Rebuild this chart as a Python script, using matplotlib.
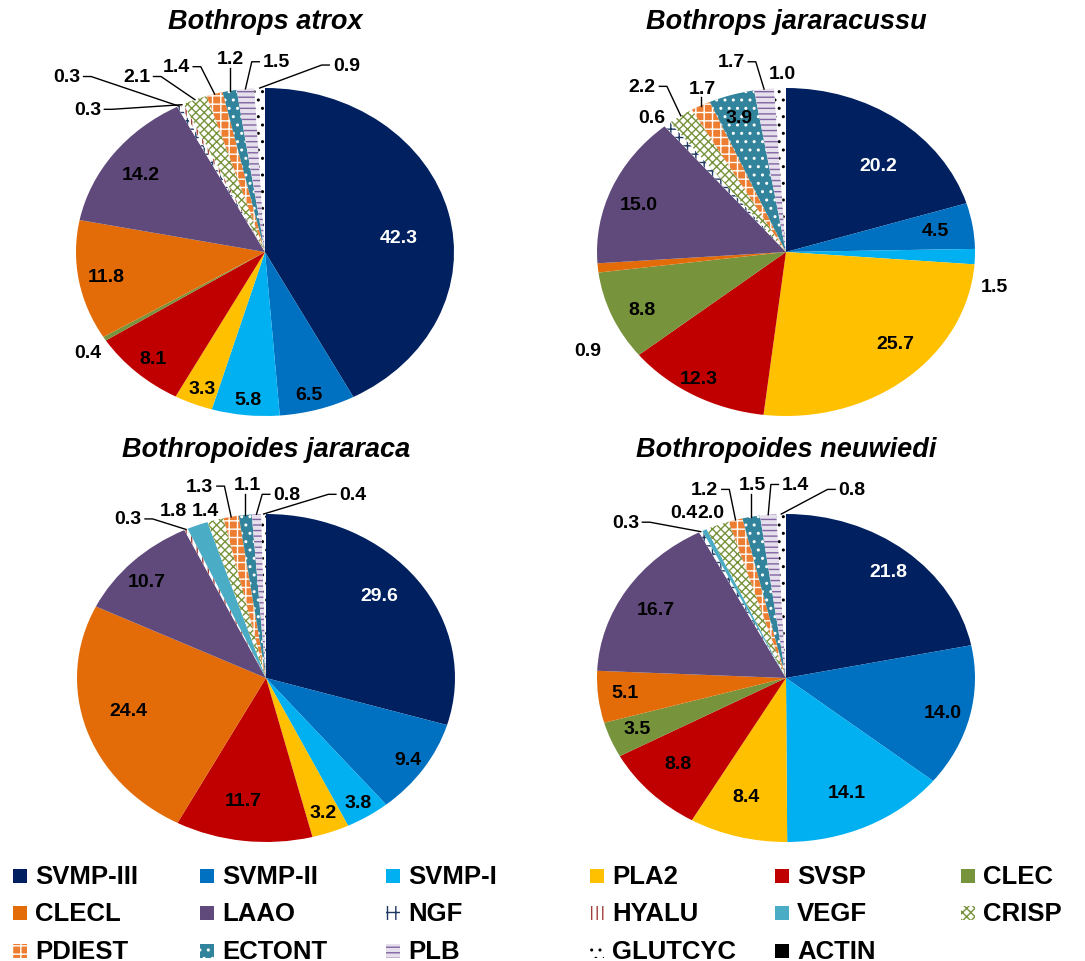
import matplotlib.pyplot as plt
from matplotlib.patches import Rectangle
import numpy as np

plt.rcParams["font.family"] = ["Liberation Sans", "DejaVu Sans"]
plt.rcParams["hatch.linewidth"] = 1.0

categories = ["SVMP-III", "SVMP-II", "SVMP-I", "PLA2", "SVSP", "CLEC",
              "CLECL", "LAAO", "NGF", "HYALU", "VEGF", "CRISP",
              "PDIEST", "ECTONT", "PLB", "GLUTCYC", "ACTIN"]

species = ["Bothrops atrox", "Bothrops jararacussu",
           "Bothropoides jararaca", "Bothropoides neuwiedi"]

atrox = [42.3, 6.5, 5.8, 3.3, 8.1, 0.4, 11.8, 14.2, 0.3, 0.3, 0.0, 2.1, 1.4, 1.2, 1.5, 0.9, 0.0]
jararacussu = [20.2, 4.5, 1.5, 25.7, 12.3, 8.8, 0.9, 15.0, 0.6, 0.0, 0.0, 2.2, 1.7, 3.9, 1.7, 1.0, 0.0]
jararaca = [29.6, 9.4, 3.8, 3.2, 11.7, 0.0, 24.4, 10.7, 0.0, 0.3, 1.8, 1.4, 1.3, 1.1, 0.8, 0.4, 0.0]
neuwiedi = [21.8, 14.0, 14.1, 8.4, 8.8, 3.5, 5.1, 16.7, 0.3, 0.0, 0.4, 2.0, 1.2, 1.5, 1.4, 0.8, 0.0]
all_values = [atrox, jararacussu, jararaca, neuwiedi]

# (face, hatch colour, hatch)
styles = {
    "SVMP-III": ("#002060", "#002060", None),
    "SVMP-II": ("#0070C0", "#0070C0", None),
    "SVMP-I": ("#00B0F0", "#00B0F0", None),
    "PLA2": ("#FFC000", "#FFC000", None),
    "SVSP": ("#C00000", "#C00000", None),
    "CLEC": ("#77933C", "#77933C", None),
    "CLECL": ("#E36C09", "#E36C09", None),
    "LAAO": ("#604A7B", "#604A7B", None),
    "NGF": ("white", "#1F3864", "++"),
    "HYALU": ("white", "#A0403C", "|||"),
    "VEGF": ("#4BACC6", "#4BACC6", None),
    "CRISP": ("white", "#77933C", "xxxx"),
    "PDIEST": ("#ED7D31", "white", "++"),
    "ECTONT": ("#31849B", "white", ".."),
    "PLB": ("#E6E0EC", "#8064A2", "---"),
    "GLUTCYC": ("white", "black", ".."),
    "ACTIN": ("black", "black", None),
}

# layout (pixels of the 1085x962 canvas)
W, H = 1085, 962
RX, RY = 189, 164
centers = [(265, 253), (786, 253), (266, 679), (786, 679)]
title_y = [22, 22, 450, 450]

# label positions in pie units (u, v), and which get leader lines
label_pos = [
    {"SVMP-III": (0.71, 0.09), "SVMP-II": (0.23, -0.87), "SVMP-I": (-0.09, -0.90),
     "PLA2": (-0.33, -0.83), "SVSP": (-0.59, -0.65), "CLEC": (-0.94, -0.61),
     "CLECL": (-0.84, -0.15), "LAAO": (-0.66, 0.47), "NGF": (-1.05, 1.07),
     "HYALU": (-0.94, 0.87), "CRISP": (-0.68, 1.07), "PDIEST": (-0.47, 1.13),
     "ECTONT": (-0.185, 1.18), "PLB": (0.06, 1.16), "GLUTCYC": (0.43, 1.14)},
    {"SVMP-III": (0.49, 0.53), "SVMP-II": (0.79, 0.13), "SVMP-I": (1.10, -0.21),
     "PLA2": (0.58, -0.56), "SVSP": (-0.46, -0.77), "CLEC": (-0.76, -0.35),
     "CLECL": (-1.05, -0.60), "LAAO": (-0.78, 0.29), "NGF": (-0.71, 0.82),
     "CRISP": (-0.76, 1.01), "PDIEST": (-0.44, 1.00), "ECTONT": (-0.25, 0.82),
     "PLB": (-0.29, 1.16), "GLUTCYC": (-0.02, 1.09)},
    {"SVMP-III": (0.60, 0.50), "SVMP-II": (0.75, -0.50), "SVMP-I": (0.49, -0.76),
     "PLA2": (0.30, -0.82), "SVSP": (-0.12, -0.75), "CLECL": (-0.73, -0.20),
     "LAAO": (-0.63, 0.59), "HYALU": (-0.73, 0.97), "VEGF": (-0.49, 1.02),
     "CRISP": (-0.32, 1.02), "PDIEST": (-0.35, 1.17), "ECTONT": (-0.10, 1.18),
     "PLB": (0.11, 1.12), "GLUTCYC": (0.46, 1.12)},
    {"SVMP-III": (0.54, 0.65), "SVMP-II": (0.83, -0.21), "SVMP-I": (0.32, -0.70),
     "PLA2": (-0.21, -0.72), "SVSP": (-0.57, -0.52), "CLEC": (-0.79, -0.31),
     "CLECL": (-0.85, -0.09), "LAAO": (-0.69, 0.42), "NGF": (-0.85, 0.95),
     "VEGF": (-0.54, 1.01), "CRISP": (-0.40, 1.01), "PDIEST": (-0.43, 1.15),
     "ECTONT": (-0.18, 1.18), "PLB": (0.05, 1.18), "GLUTCYC": (0.35, 1.15)},
]
leaders = [
    {"NGF", "HYALU", "CRISP", "PDIEST", "ECTONT", "PLB", "GLUTCYC"},
    {"CRISP", "PDIEST", "PLB"},
    {"HYALU", "PDIEST", "ECTONT", "PLB", "GLUTCYC"},
    {"NGF", "PDIEST", "ECTONT", "PLB", "GLUTCYC"},
]

legend_cols = [20, 207, 393, 597, 782, 968]
legend_rows = [877, 914, 952]

fig = plt.figure(figsize=(W / 100, H / 100), dpi=100)

for i, vals in enumerate(all_values):
    cx, cy = centers[i]
    ax = fig.add_axes([(cx - RX) / W, 1 - (cy + RY) / H, 2 * RX / W, 2 * RY / H])
    wedges, _ = ax.pie(vals, startangle=90, counterclock=False,
                       wedgeprops=dict(linewidth=0))
    for w, name in zip(wedges, categories):
        face, hcol, hatch = styles[name]
        w.set_facecolor(face)
        w.set_edgecolor(hcol)
        w.set_linewidth(0)
        if hatch:
            w.set_hatch(hatch)
    ax.set_aspect("auto")
    ax.set_xlim(-1, 1)
    ax.set_ylim(-1, 1)

    total = sum(vals)
    cum = np.cumsum([0] + vals[:-1])
    for k, name in enumerate(categories):
        if vals[k] == 0:
            continue
        u, v = label_pos[i][name]
        ax.text(u, v, f"{vals[k]:.1f}", ha="center", va="center", fontsize=14,
                fontweight="bold", color="white" if k == 0 else "black")
        if name in leaders[i]:
            th = np.deg2rad(90 - 360 * (cum[k] + vals[k] / 2) / total)
            axx, ayy = np.cos(th), np.sin(th)
            hw, hh, stub = 0.09, 0.055, 0.04
            if abs(axx - u) < hw:
                xs, ys = [axx, axx], [v - hh, ayy]
            else:
                side = np.sign(axx - u)
                xs = [u + side * hw, u + side * (hw + stub), axx]
                ys = [v, v, ayy]
            ax.plot(xs, ys, color="black", lw=1, clip_on=False)

    fig.text(cx / W, 1 - title_y[i] / H, species[i], ha="center", va="center",
             fontsize=19.5, fontweight="bold", fontstyle="italic")

for k, name in enumerate(categories):
    r, c = divmod(k, 6)
    x, y = legend_cols[c], legend_rows[r]
    face, hcol, hatch = styles[name]
    fig.patches.append(Rectangle(((x - 7) / W, 1 - (y + 7) / H), 14 / W, 14 / H,
                                 transform=fig.transFigure, facecolor=face,
                                 edgecolor=hcol, hatch=hatch, linewidth=0))
    fig.text((x + 15) / W, 1 - y / H, name, ha="left", va="center",
             fontsize=18.5, fontweight="bold")

fig.savefig("out.png", dpi=100)
